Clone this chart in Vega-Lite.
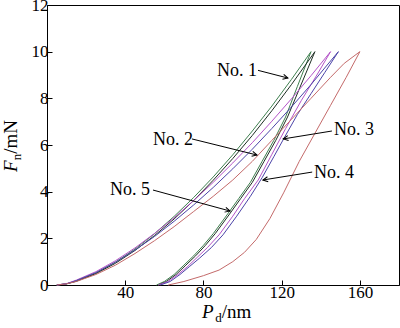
{
  "$schema": "https://vega.github.io/schema/vega-lite/v6.json",
  "width": 352,
  "height": 280,
  "autosize": {"type": "none"},
  "padding": {"left": 47, "top": 5, "right": 1, "bottom": 43},
  "background": "white",
  "config": {
    "view": {"stroke": "black", "strokeWidth": 1},
    "axis": {
      "labelFont": "Liberation Serif",
      "labelFontSize": 17,
      "labelColor": "black",
      "domainColor": "black",
      "tickColor": "black",
      "grid": false,
      "title": null,
      "tickSize": -5,
      "labelPadding": 4
    }
  },
  "encoding": {
    "x": {"field": "x", "type": "quantitative", "scale": {"domain": [0, 180], "nice": false},
      "axis": {"values": [40, 80, 120, 160], "title": null}},
    "y": {"field": "F", "type": "quantitative", "scale": {"domain": [0, 12], "nice": false},
      "axis": {"values": [0, 2, 4, 6, 8, 10, 12], "title": null}}
  },
  "layer": [
    {
      "data": {"values": [
        {"curve": "No. 1", "branch": "load", "x": 5, "F": 0}, {"curve": "No. 1", "branch": "load", "x": 10, "F": 0.05}, {"curve": "No. 1", "branch": "load", "x": 15, "F": 0.17}, {"curve": "No. 1", "branch": "load", "x": 25, "F": 0.51}, {"curve": "No. 1", "branch": "load", "x": 35, "F": 0.98}, {"curve": "No. 1", "branch": "load", "x": 45, "F": 1.54}, {"curve": "No. 1", "branch": "load", "x": 55, "F": 2.2}, {"curve": "No. 1", "branch": "load", "x": 65, "F": 2.94}, {"curve": "No. 1", "branch": "load", "x": 75, "F": 3.75}, {"curve": "No. 1", "branch": "load", "x": 85, "F": 4.63}, {"curve": "No. 1", "branch": "load", "x": 95, "F": 5.58}, {"curve": "No. 1", "branch": "load", "x": 105, "F": 6.6}, {"curve": "No. 1", "branch": "load", "x": 115, "F": 7.67}, {"curve": "No. 1", "branch": "load", "x": 125, "F": 8.81}, {"curve": "No. 1", "branch": "load", "x": 135, "F": 10},
        {"curve": "No. 1", "branch": "unload", "x": 56, "F": 0}, {"curve": "No. 1", "branch": "unload", "x": 60, "F": 0.15}, {"curve": "No. 1", "branch": "unload", "x": 65, "F": 0.45}, {"curve": "No. 1", "branch": "unload", "x": 70, "F": 0.85}, {"curve": "No. 1", "branch": "unload", "x": 75, "F": 1.25}, {"curve": "No. 1", "branch": "unload", "x": 80, "F": 1.7}, {"curve": "No. 1", "branch": "unload", "x": 85, "F": 2.2}, {"curve": "No. 1", "branch": "unload", "x": 92, "F": 3.0}, {"curve": "No. 1", "branch": "unload", "x": 98, "F": 3.7}, {"curve": "No. 1", "branch": "unload", "x": 104, "F": 4.4}, {"curve": "No. 1", "branch": "unload", "x": 110, "F": 5.3}, {"curve": "No. 1", "branch": "unload", "x": 116, "F": 6.2}, {"curve": "No. 1", "branch": "unload", "x": 122, "F": 7.2}, {"curve": "No. 1", "branch": "unload", "x": 128, "F": 8.5}, {"curve": "No. 1", "branch": "unload", "x": 135, "F": 10},
        {"curve": "No. 5", "branch": "load", "x": 5, "F": 0}, {"curve": "No. 5", "branch": "load", "x": 10, "F": 0.05}, {"curve": "No. 5", "branch": "load", "x": 15, "F": 0.16}, {"curve": "No. 5", "branch": "load", "x": 25, "F": 0.49}, {"curve": "No. 5", "branch": "load", "x": 35, "F": 0.93}, {"curve": "No. 5", "branch": "load", "x": 45, "F": 1.48}, {"curve": "No. 5", "branch": "load", "x": 55, "F": 2.12}, {"curve": "No. 5", "branch": "load", "x": 65, "F": 2.83}, {"curve": "No. 5", "branch": "load", "x": 75, "F": 3.62}, {"curve": "No. 5", "branch": "load", "x": 85, "F": 4.49}, {"curve": "No. 5", "branch": "load", "x": 95, "F": 5.42}, {"curve": "No. 5", "branch": "load", "x": 105, "F": 6.41}, {"curve": "No. 5", "branch": "load", "x": 115, "F": 7.47}, {"curve": "No. 5", "branch": "load", "x": 125, "F": 8.59}, {"curve": "No. 5", "branch": "load", "x": 137, "F": 10},
        {"curve": "No. 5", "branch": "unload", "x": 57, "F": 0}, {"curve": "No. 5", "branch": "unload", "x": 61, "F": 0.15}, {"curve": "No. 5", "branch": "unload", "x": 66, "F": 0.45}, {"curve": "No. 5", "branch": "unload", "x": 71, "F": 0.85}, {"curve": "No. 5", "branch": "unload", "x": 76, "F": 1.25}, {"curve": "No. 5", "branch": "unload", "x": 81, "F": 1.7}, {"curve": "No. 5", "branch": "unload", "x": 86, "F": 2.2}, {"curve": "No. 5", "branch": "unload", "x": 93, "F": 3.0}, {"curve": "No. 5", "branch": "unload", "x": 99, "F": 3.7}, {"curve": "No. 5", "branch": "unload", "x": 105, "F": 4.4}, {"curve": "No. 5", "branch": "unload", "x": 111, "F": 5.3}, {"curve": "No. 5", "branch": "unload", "x": 117, "F": 6.2}, {"curve": "No. 5", "branch": "unload", "x": 123, "F": 7.2}, {"curve": "No. 5", "branch": "unload", "x": 129, "F": 8.4}, {"curve": "No. 5", "branch": "unload", "x": 137, "F": 10},
        {"curve": "No. 4", "branch": "load", "x": 5, "F": 0}, {"curve": "No. 4", "branch": "load", "x": 10, "F": 0.06}, {"curve": "No. 4", "branch": "load", "x": 15, "F": 0.21}, {"curve": "No. 4", "branch": "load", "x": 25, "F": 0.57}, {"curve": "No. 4", "branch": "load", "x": 35, "F": 1.04}, {"curve": "No. 4", "branch": "load", "x": 45, "F": 1.59}, {"curve": "No. 4", "branch": "load", "x": 55, "F": 2.21}, {"curve": "No. 4", "branch": "load", "x": 65, "F": 2.88}, {"curve": "No. 4", "branch": "load", "x": 75, "F": 3.62}, {"curve": "No. 4", "branch": "load", "x": 85, "F": 4.4}, {"curve": "No. 4", "branch": "load", "x": 95, "F": 5.23}, {"curve": "No. 4", "branch": "load", "x": 105, "F": 6.1}, {"curve": "No. 4", "branch": "load", "x": 115, "F": 7.02}, {"curve": "No. 4", "branch": "load", "x": 125, "F": 7.98}, {"curve": "No. 4", "branch": "load", "x": 135, "F": 8.97}, {"curve": "No. 4", "branch": "load", "x": 145, "F": 10},
        {"curve": "No. 4", "branch": "unload", "x": 57, "F": 0}, {"curve": "No. 4", "branch": "unload", "x": 62, "F": 0.15}, {"curve": "No. 4", "branch": "unload", "x": 67, "F": 0.45}, {"curve": "No. 4", "branch": "unload", "x": 72, "F": 0.8}, {"curve": "No. 4", "branch": "unload", "x": 77, "F": 1.2}, {"curve": "No. 4", "branch": "unload", "x": 82, "F": 1.6}, {"curve": "No. 4", "branch": "unload", "x": 88, "F": 2.15}, {"curve": "No. 4", "branch": "unload", "x": 95, "F": 2.95}, {"curve": "No. 4", "branch": "unload", "x": 101, "F": 3.7}, {"curve": "No. 4", "branch": "unload", "x": 108, "F": 4.5}, {"curve": "No. 4", "branch": "unload", "x": 115, "F": 5.6}, {"curve": "No. 4", "branch": "unload", "x": 122, "F": 6.7}, {"curve": "No. 4", "branch": "unload", "x": 130, "F": 7.9}, {"curve": "No. 4", "branch": "unload", "x": 138, "F": 9.0}, {"curve": "No. 4", "branch": "unload", "x": 145, "F": 10},
        {"curve": "No. 3", "branch": "load", "x": 5, "F": 0}, {"curve": "No. 3", "branch": "load", "x": 10, "F": 0.05}, {"curve": "No. 3", "branch": "load", "x": 15, "F": 0.19}, {"curve": "No. 3", "branch": "load", "x": 25, "F": 0.53}, {"curve": "No. 3", "branch": "load", "x": 35, "F": 0.98}, {"curve": "No. 3", "branch": "load", "x": 45, "F": 1.5}, {"curve": "No. 3", "branch": "load", "x": 55, "F": 2.08}, {"curve": "No. 3", "branch": "load", "x": 65, "F": 2.73}, {"curve": "No. 3", "branch": "load", "x": 75, "F": 3.43}, {"curve": "No. 3", "branch": "load", "x": 85, "F": 4.18}, {"curve": "No. 3", "branch": "load", "x": 95, "F": 4.98}, {"curve": "No. 3", "branch": "load", "x": 105, "F": 5.82}, {"curve": "No. 3", "branch": "load", "x": 115, "F": 6.71}, {"curve": "No. 3", "branch": "load", "x": 125, "F": 7.63}, {"curve": "No. 3", "branch": "load", "x": 135, "F": 8.59}, {"curve": "No. 3", "branch": "load", "x": 142, "F": 9.3}, {"curve": "No. 3", "branch": "load", "x": 149, "F": 10},
        {"curve": "No. 3", "branch": "unload", "x": 58, "F": 0}, {"curve": "No. 3", "branch": "unload", "x": 63, "F": 0.15}, {"curve": "No. 3", "branch": "unload", "x": 68, "F": 0.45}, {"curve": "No. 3", "branch": "unload", "x": 73, "F": 0.8}, {"curve": "No. 3", "branch": "unload", "x": 78, "F": 1.15}, {"curve": "No. 3", "branch": "unload", "x": 84, "F": 1.6}, {"curve": "No. 3", "branch": "unload", "x": 90, "F": 2.15}, {"curve": "No. 3", "branch": "unload", "x": 97, "F": 2.95}, {"curve": "No. 3", "branch": "unload", "x": 104, "F": 3.8}, {"curve": "No. 3", "branch": "unload", "x": 110, "F": 4.6}, {"curve": "No. 3", "branch": "unload", "x": 116, "F": 5.5}, {"curve": "No. 3", "branch": "unload", "x": 121, "F": 6.26}, {"curve": "No. 3", "branch": "unload", "x": 128, "F": 7.3}, {"curve": "No. 3", "branch": "unload", "x": 135, "F": 8.2}, {"curve": "No. 3", "branch": "unload", "x": 142, "F": 9.1}, {"curve": "No. 3", "branch": "unload", "x": 149, "F": 10},
        {"curve": "No. 2", "branch": "load", "x": 5, "F": 0}, {"curve": "No. 2", "branch": "load", "x": 10, "F": 0.05}, {"curve": "No. 2", "branch": "load", "x": 15, "F": 0.15}, {"curve": "No. 2", "branch": "load", "x": 25, "F": 0.45}, {"curve": "No. 2", "branch": "load", "x": 35, "F": 0.85}, {"curve": "No. 2", "branch": "load", "x": 45, "F": 1.35}, {"curve": "No. 2", "branch": "load", "x": 55, "F": 1.9}, {"curve": "No. 2", "branch": "load", "x": 65, "F": 2.5}, {"curve": "No. 2", "branch": "load", "x": 75, "F": 3.15}, {"curve": "No. 2", "branch": "load", "x": 85, "F": 3.8}, {"curve": "No. 2", "branch": "load", "x": 95, "F": 4.5}, {"curve": "No. 2", "branch": "load", "x": 105, "F": 5.3}, {"curve": "No. 2", "branch": "load", "x": 115, "F": 6.2}, {"curve": "No. 2", "branch": "load", "x": 125, "F": 7.1}, {"curve": "No. 2", "branch": "load", "x": 135, "F": 8.0}, {"curve": "No. 2", "branch": "load", "x": 145, "F": 8.9}, {"curve": "No. 2", "branch": "load", "x": 152, "F": 9.5}, {"curve": "No. 2", "branch": "load", "x": 160, "F": 10},
        {"curve": "No. 2", "branch": "unload", "x": 62, "F": 0}, {"curve": "No. 2", "branch": "unload", "x": 70, "F": 0.15}, {"curve": "No. 2", "branch": "unload", "x": 80, "F": 0.4}, {"curve": "No. 2", "branch": "unload", "x": 88, "F": 0.64}, {"curve": "No. 2", "branch": "unload", "x": 95, "F": 1.0}, {"curve": "No. 2", "branch": "unload", "x": 101, "F": 1.4}, {"curve": "No. 2", "branch": "unload", "x": 107, "F": 1.95}, {"curve": "No. 2", "branch": "unload", "x": 114, "F": 2.85}, {"curve": "No. 2", "branch": "unload", "x": 121, "F": 3.95}, {"curve": "No. 2", "branch": "unload", "x": 129, "F": 5.3}, {"curve": "No. 2", "branch": "unload", "x": 137, "F": 6.5}, {"curve": "No. 2", "branch": "unload", "x": 145, "F": 7.7}, {"curve": "No. 2", "branch": "unload", "x": 153, "F": 8.9}, {"curve": "No. 2", "branch": "unload", "x": 160, "F": 10}
      ]},
      "mark": {"type": "line", "strokeWidth": 1},
      "encoding": {
        "color": {"field": "curve", "type": "nominal", "legend": null,
          "scale": {"domain": ["No. 1", "No. 2", "No. 3", "No. 4", "No. 5"],
                    "range": ["#3f7f4f", "#c46a6a", "#4c44a8", "#b454c8", "#1f2f24"]}},
        "detail": {"field": "branch", "type": "nominal"}
      }
    },
    {
      "data": {"values": [
        {"x": 107.9, "F": 9.2, "x2": 123.2, "F2": 8.87, "angle": 104.4},
        {"x": 74.1, "F": 6.26, "x2": 107.4, "F2": 5.57, "angle": 103.8},
        {"x": 145.7, "F": 6.6, "x2": 120.8, "F2": 6.26, "angle": -99.3},
        {"x": 135.6, "F": 4.84, "x2": 110.4, "F2": 4.5, "angle": -99.3},
        {"x": 54.2, "F": 4.07, "x2": 93.6, "F2": 3.17, "angle": 105.3}
      ]},
      "layer": [
        {
          "mark": {"type": "rule", "color": "black", "strokeWidth": 1},
          "encoding": {"x2": {"field": "x2"}, "y2": {"field": "F2"}}
        },
        {
          "mark": {"type": "point", "shape": "M-0.5,1L0,0L0.5,1", "filled": false, "stroke": "black", "strokeWidth": 1, "size": 100, "opacity": 1},
          "encoding": {
            "x": {"field": "x2", "type": "quantitative"},
            "y": {"field": "F2", "type": "quantitative"},
            "angle": {"field": "angle", "type": "quantitative", "scale": null}
          }
        }
      ]
    },
    {
      "data": {"values": [
        {"x": 86.9, "F": 9.17, "t": "No. 1"},
        {"x": 54.2, "F": 6.2, "t": "No. 2"},
        {"x": 146.7, "F": 6.64, "t": "No. 3"},
        {"x": 136.5, "F": 4.82, "t": "No. 4"},
        {"x": 32.2, "F": 4.07, "t": "No. 5"}
      ]},
      "mark": {"type": "text", "font": "Liberation Serif", "fontSize": 18, "align": "left", "baseline": "middle", "color": "black"},
      "encoding": {"text": {"field": "t"}}
    },
    {
      "data": {"values": [{"x": -15.3, "F": 4.84, "t": "F"}, {"x": 79.2, "F": -1.43, "t": "P"}]},
      "mark": {"type": "text", "font": "Liberation Serif", "fontSize": 19, "fontStyle": "italic", "align": "left", "baseline": "alphabetic", "color": "black"},
      "encoding": {"text": {"field": "t"}, "angle": {"field": "t", "type": "nominal", "scale": {"domain": ["F", "P"], "range": [270, 0]}, "legend": null}}
    },
    {
      "data": {"values": [{"x": -13.3, "F": 5.35, "t": "n"}]},
      "mark": {"type": "text", "font": "Liberation Serif", "fontSize": 13, "align": "left", "baseline": "alphabetic", "color": "black", "angle": 270},
      "encoding": {"text": {"field": "t"}}
    },
    {
      "data": {"values": [{"x": -15.3, "F": 5.62, "t": "/mN"}]},
      "mark": {"type": "text", "font": "Liberation Serif", "fontSize": 19, "align": "left", "baseline": "alphabetic", "color": "black", "angle": 270},
      "encoding": {"text": {"field": "t"}}
    },
    {
      "data": {"values": [{"x": 86.0, "F": -1.6, "t": "d"}]},
      "mark": {"type": "text", "font": "Liberation Serif", "fontSize": 13, "align": "left", "baseline": "alphabetic", "color": "black"},
      "encoding": {"text": {"field": "t"}}
    },
    {
      "data": {"values": [{"x": 89.4, "F": -1.43, "t": "/nm"}]},
      "mark": {"type": "text", "font": "Liberation Serif", "fontSize": 19, "align": "left", "baseline": "alphabetic", "color": "black"},
      "encoding": {"text": {"field": "t"}}
    }
  ]
}
